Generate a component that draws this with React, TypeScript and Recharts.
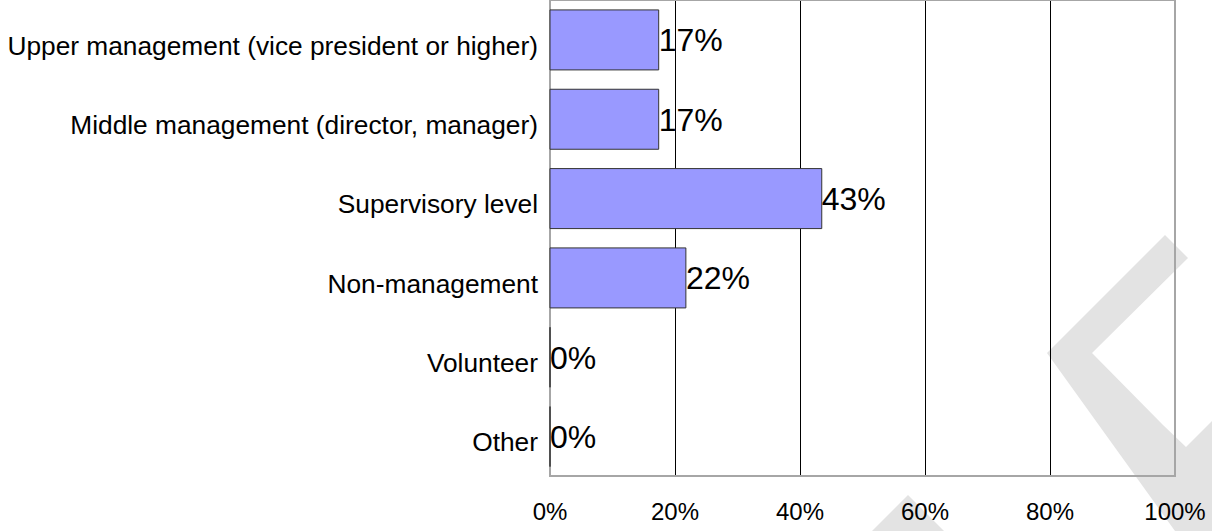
import React from "react";
import { BarChart, Bar, XAxis, YAxis, CartesianGrid, LabelList, ReferenceArea } from "recharts";

const categories = [
  "Upper management (vice president or higher)",
  "Middle management (director, manager)",
  "Supervisory level",
  "Non-management",
  "Volunteer",
  "Other",
];
const shares = [0.1739, 0.1739, 0.4348, 0.2174, 0, 0];
const shareLabels = ["17%", "17%", "43%", "22%", "0%", "0%"];
const xTicks = [0, 0.2, 0.4, 0.6, 0.8, 1];
const xTickLabels = ["0%", "20%", "40%", "60%", "80%", "100%"];

const data = categories.map((name, i) => ({ name, value: shares[i], label: shareLabels[i] }));

const FONT = "'Liberation Sans', Arial, Helvetica, sans-serif";
const WM = "#e3e3e3";

const BarShape = (props: any) => {
  const { x, y, width, height } = props;
  const w = Math.max(0, width || 0);
  return (
    <path
      d={`M${x},${y}h${w}v${height}h${-w}Z`}
      fill="#9999ff"
      stroke="#333333"
      strokeWidth={1}
    />
  );
};

const CatTick = (props: any) => (
  <text
    x={props.x}
    y={props.y}
    dy={15}
    textAnchor="end"
    fontSize={26.3}
    fontFamily={FONT}
    fill="#000"
  >
    {props.payload.value}
  </text>
);

const PctTick = (props: any) => (
  <text
    x={props.x}
    y={props.y}
    dy="0.71em"
    textAnchor="middle"
    fontSize={24}
    fontFamily={FONT}
    fill="#000"
  >
    {xTickLabels[props.index]}
  </text>
);

export default function App() {
  return (
    <div style={{ position: "absolute", left: 0, top: 0, width: 1212, height: 531, background: "#fff", overflow: "hidden" }}>
      <style>{`.recharts-cartesian-grid-vertical line { transform: translateX(0.5px); }`}</style>
      <svg width={1212} height={531} style={{ position: "absolute", left: 0, top: 0 }}>
        <polygon
          points="1047,353 1165,235 1188,258 1092,353 1163,425 1186,447 1212,421 1212,531 1175,531"
          fill={WM}
        />
        <polygon points="872,531 908,495 944,531" fill={WM} />
      </svg>
      <div style={{ position: "absolute", left: 0, top: 0 }}>
        <BarChart
          width={1212}
          height={531}
          data={data}
          layout="vertical"
          margin={{ top: 0, right: 37, bottom: 0, left: 0 }}
          barCategoryGap="12.5%"
        >
          <CartesianGrid horizontal={false} stroke="#000" strokeWidth={1} />
          <XAxis
            type="number"
            domain={[0, 1]}
            ticks={xTicks}
            height={55}
            axisLine={false}
            tickLine={false}
            tickSize={0}
            tickMargin={27}
            tick={<PctTick />}
            interval={0}
          />
          <YAxis
            type="category"
            dataKey="name"
            width={550}
            axisLine={false}
            tickLine={false}
            tickSize={0}
            tickMargin={12}
            tick={<CatTick />}
            interval={0}
          />
          <ReferenceArea x1={0} x2={1} fill="none" stroke="#a6a6a6" strokeWidth={2} ifOverflow="visible" />
          <Bar dataKey="value" isAnimationActive={false} shape={<BarShape />}>
            <LabelList
              dataKey="label"
              position="right"
              offset={0}
              fill="#000"
              fontSize={32}
              fontFamily={FONT}
            />
          </Bar>
        </BarChart>
      </div>
    </div>
  );
}
